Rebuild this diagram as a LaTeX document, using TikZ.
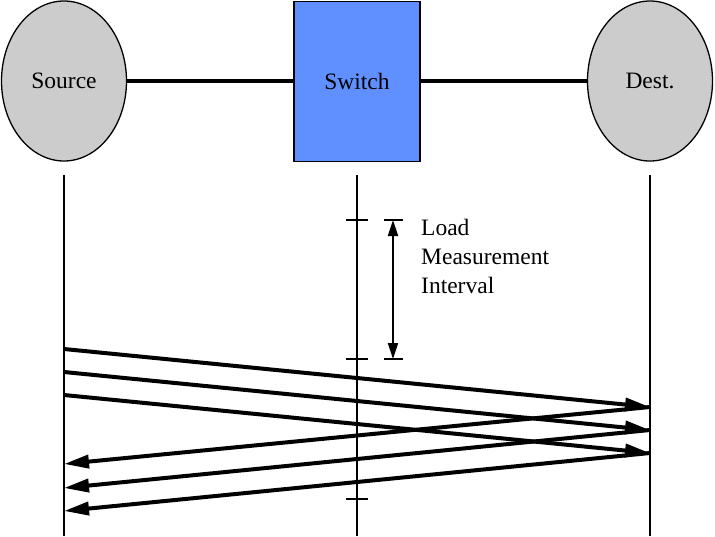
\documentclass[tikz,border=0pt]{standalone}
\usepackage{fontspec}
\setmainfont{Liberation Serif}
\usetikzlibrary{shapes.geometric,arrows.meta}
\definecolor{hostgray}{HTML}{CCCCCC}
\definecolor{switchblue}{HTML}{6090FF}
\begin{document}
\begin{tikzpicture}[x=1pt,y=-1pt,
  host/.style={ellipse,draw,line width=1.3pt,fill=hostgray,minimum width=125pt,minimum height=160pt,inner sep=0pt,font=\fontsize{23.5}{26}\selectfont},
  switchbox/.style={rectangle,draw,line width=1.3pt,fill=switchblue,minimum width=126pt,minimum height=160pt,inner sep=0pt,font=\fontsize{23.5}{26}\selectfont},
  link/.style={line width=4pt},
  lifeline/.style={line width=2pt},
  tick/.style={line width=1.6pt},
  msg/.style={line width=4pt,-{Triangle[length=25pt,width=13pt]}},
  interval/.style={line width=2.2pt,{Triangle[length=16pt,width=10pt]}-{Triangle[length=16pt,width=10pt]}},
  lbl/.style={anchor=north west,align=left,inner sep=0pt,font=\fontsize{23.5}{29}\selectfont}]
\useasboundingbox (0,0) rectangle (715,536);
\node[host] (src) at (64,81) {Source};
\node[switchbox] (sw) at (357,81.5) {Switch};
\node[host] (dst) at (650,81) {Dest.};
\draw[link] (src.east) -- (src.east -| sw.west);
\draw[link] (dst.west -| sw.east) -- (dst.west);
% lifelines
\coordinate (srcTop) at (64,175);
\coordinate (srcBot) at (64,536);
\coordinate (swTop) at (357,175);
\coordinate (swBot) at (357,536);
\coordinate (dstTop) at (650,175);
\coordinate (dstBot) at (650,536);
\draw[lifeline] (srcTop) -- (srcBot);
\draw[lifeline] (swTop) -- (swBot);
\draw[lifeline] (dstTop) -- (dstBot);
% ticks on switch lifeline
\coordinate (t1a) at (346,220); \coordinate (t1b) at (368,220);
\coordinate (t2a) at (346,359); \coordinate (t2b) at (368,359);
\coordinate (t3a) at (346,499); \coordinate (t3b) at (368,499);
\draw[tick] (t1a) -- (t1b);
\draw[tick] (t2a) -- (t2b);
\draw[tick] (t3a) -- (t3b);
% interval
\coordinate (i1a) at (384,220); \coordinate (i1b) at (403,220);
\coordinate (i2a) at (384,359); \coordinate (i2b) at (403,359);
\coordinate (iTop) at (393,220); \coordinate (iBot) at (393,359);
\draw[tick] (i1a) -- (i1b);
\draw[tick] (i2a) -- (i2b);
\draw[interval] (iTop) -- (iBot);
\node[lbl] (label) at (421,219) {Load\\Measurement\\Interval};
% messages
\coordinate (s1) at (64,349); \coordinate (d1) at (650,407);
\coordinate (s2) at (64,372); \coordinate (d2) at (650,430);
\coordinate (s3) at (64,395); \coordinate (d3) at (650,453);
\coordinate (r1) at (64,464);
\coordinate (r2) at (64,488);
\coordinate (r3) at (64,511);
\draw[msg] (s1) -- (d1);
\draw[msg] (s2) -- (d2);
\draw[msg] (s3) -- (d3);
\draw[msg] (d1) -- (r1);
\draw[msg] (d2) -- (r2);
\draw[msg] (d3) -- (r3);
\end{tikzpicture}
\end{document}
